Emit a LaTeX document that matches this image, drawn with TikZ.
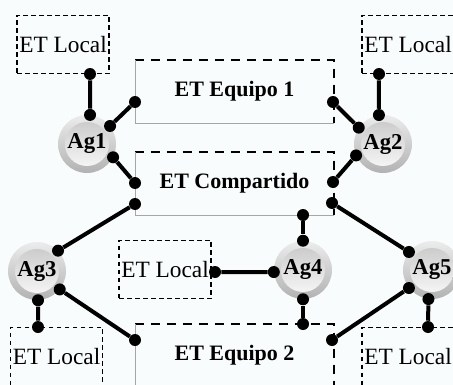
\documentclass[tikz,border=0pt]{standalone}
\usepackage{fontspec}
\setmainfont{Liberation Serif}
\usepackage{tikz}
\definecolor{bgcol}{RGB}{249,252,252}

\begin{document}
\begin{tikzpicture}[x=0.75pt,y=-0.75pt,
                    local node/.style={rectangle,draw,line width=0.9pt,dash pattern=on 3.5pt off 2.5pt,
                      minimum width=69pt,minimum height=44pt,inner sep=0pt,font=\fontsize{17.5}{20}\selectfont},
                    box node/.style={rectangle,minimum width=149pt,minimum height=47pt,inner sep=0pt,
                      font=\fontsize{16.5}{20}\selectfont\bfseries},
                    box top/.style={line width=2pt,dash pattern=on 7pt off 5pt},
                    box side/.style={gray!70,line width=0.6pt},
                    agent node/.style={circle,minimum size=43.5pt,inner sep=0pt,
                      top color=gray!15,bottom color=gray!60,font=\fontsize{17}{20}\selectfont\bfseries,
                      path picture={\shade[top color=gray!45,bottom color=gray!3]
                        (path picture bounding box.center) circle (16.5pt);}},
                    dot node/.style={circle,fill=black,minimum size=9pt,inner sep=0pt},
                    link/.style={line width=3pt}]
\fill[bgcol] (0,0) rectangle (453,385);
\useasboundingbox (0,0) rectangle (453,385);

% shared and team spaces
\node[box node] (eq1) at (234.5,91.5) {ET Equipo 1};
\node[box node] (comp) at (234.5,183.5) {ET Compartido};
\node[box node] (eq2) at (234.5,355.5) {ET Equipo 2};
\draw[box top] (eq1.north west) -- (eq1.north east) -- (eq1.south east);
\draw[box side] (eq1.north west) -- (eq1.south west) -- (eq1.south east);
\draw[box top] (comp.north west) -- (comp.north east) -- (comp.south east);
\draw[box side] (comp.north west) -- (comp.south west) -- (comp.south east);
\draw[box top] (eq2.north west) -- (eq2.north east) -- (eq2.south east);
\draw[box side] (eq2.north west) -- (eq2.south west) -- (eq2.south east);

% local spaces
\node[local node] (locA) at (63,44.5) {ET Local};
\node[local node] (locB) at (408,44.5) {ET Local};
\node[local node] (locC) at (56.5,356.5) {ET Local};
\node[local node] (locD) at (165,269.5) {ET Local};
\node[local node] (locE) at (408,356.5) {ET Local};

% agents
\node[agent node] (ag1) at (87,144) {Ag1};
\node[agent node] (ag2) at (383,144) {Ag2};
\node[agent node] (ag3) at (37,271) {Ag3};
\node[agent node] (ag4) at (303,270) {Ag4};
\node[agent node] (ag5) at (432,270) {Ag5};

% end points on agents
\node[dot node] (a1t) at (ag1.84) {};
\node[dot node] (a1u) at (ag1.38) {};
\node[dot node] (a1d) at (ag1.-27) {};
\node[dot node] (a2t) at (ag2.98) {};
\node[dot node] (a2u) at (ag2.146) {};
\node[dot node] (a2d) at (ag2.203) {};
\node[dot node] (a3u) at (ag3.44) {};
\node[dot node] (a3d) at (ag3.-39) {};
\node[dot node] (a3b) at (ag3.-88) {};
\node[dot node] (a4l) at (ag4.184) {};
\node[dot node] (a4t) at (ag4.north) {};
\node[dot node] (a4b) at (ag4.south) {};
\node[dot node] (a5u) at (ag5.142) {};
\node[dot node] (a5d) at (ag5.218) {};
\node[dot node] (a5b) at (ag5.263) {};

% end points on spaces
\node[dot node] (lA) at (90,74) {};
\node[dot node] (lB) at (379,74) {};
\node[dot node] (lC) at (38,327) {};
\node[dot node] (lD) at (215,272) {};
\node[dot node] (lE) at (428,327) {};
\node[dot node] (e1l) at (135,102) {};
\node[dot node] (e1r) at (333,102) {};
\node[dot node] (cl1) at (135,183) {};
\node[dot node] (cl2) at (135,204) {};
\node[dot node] (cr1) at (333,182) {};
\node[dot node] (cr2) at (332,203) {};
\node[dot node] (cb) at (303,215) {};
\node[dot node] (e2l) at (135,340) {};
\node[dot node] (e2t) at (303,324) {};
\node[dot node] (e2r) at (332,340) {};

\path[link]
  (lA) edge (a1t)
  (e1l) edge (a1u)
  (cl1) edge (a1d)
  (lB) edge (a2t)
  (e1r) edge (a2u)
  (cr1) edge (a2d)
  (cl2) edge (a3u)
  (e2l) edge (a3d)
  (lC) edge (a3b)
  (lD) edge (a4l)
  (cb) edge (a4t)
  (e2t) edge (a4b)
  (cr2) edge (a5u)
  (e2r) edge (a5d)
  (lE) edge (a5b);
\end{tikzpicture}
\end{document}
